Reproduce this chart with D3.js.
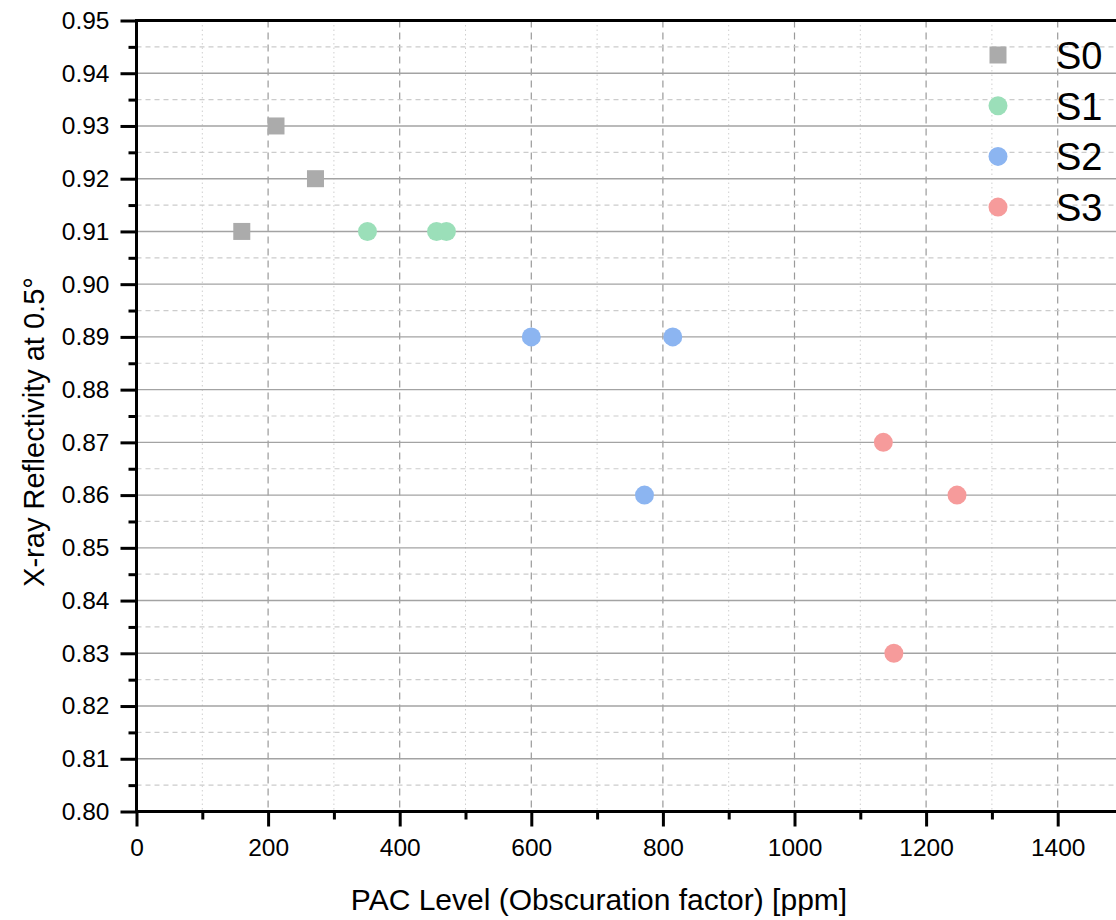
<!DOCTYPE html>
<html>
<head>
<meta charset="utf-8">
<script src="https://cdn.jsdelivr.net/npm/d3@7"></script>
<style>
  body { margin: 0; background: #fff; }
  svg { font-family: Arial, "Liberation Sans", sans-serif; }
</style>
</head>
<body>
<svg width="1116" height="920"></svg>
<script>
var svg, x, y, plot;

// data
var seriesNames = ['S0', 'S1', 'S2', 'S3'];
var s0x = [160, 212, 272];
var s0y = [0.91, 0.93, 0.92];
var s1x = [351, 456, 471];
var s1y = [0.91, 0.91, 0.91];
var s2x = [600, 815, 772];
var s2y = [0.89, 0.89, 0.86];
var s3x = [1135, 1247, 1151];
var s3y = [0.87, 0.86, 0.83];
var xTicks = [0, 200, 400, 600, 800, 1000, 1200, 1400];
var yTicks = [0.80, 0.81, 0.82, 0.83, 0.84, 0.85, 0.86, 0.87, 0.88, 0.89, 0.90, 0.91, 0.92, 0.93, 0.94, 0.95];

var colors = ['#ababab', '#9bdfb9', '#8cb5f1', '#f69b9b'];
var shapes = ['square', 'circle', 'circle', 'circle'];

var series = [
	{ name: seriesNames[0], xs: s0x, ys: s0y },
	{ name: seriesNames[1], xs: s1x, ys: s1y },
	{ name: seriesNames[2], xs: s2x, ys: s2y },
	{ name: seriesNames[3], xs: s3x, ys: s3y }
];

svg = d3.select('svg');

x = d3.scaleLinear().domain([0, 1500]).range([136.5, 1123.5]);
y = d3.scaleLinear().domain([0.80, 0.95]).range([811.5, 20.5]);

var pLeft = x(0), pRight = 1116, pTop = y(0.95), pBottom = y(0.80);

/*
	grid
*/
var grid = svg.append('g');

// minor x (dotted)
grid.selectAll('.gxm').data(d3.range(100, 1500, 200)).enter().append('line')
	.attr('x1', d => x(d)).attr('x2', d => x(d))
	.attr('y1', pTop).attr('y2', pBottom)
	.style('stroke', '#cfcfcf').style('stroke-width', 1).style('stroke-dasharray', '1.5,3');

// major x (dashed)
grid.selectAll('.gxM').data(xTicks.slice(1)).enter().append('line')
	.attr('x1', d => x(d)).attr('x2', d => x(d))
	.attr('y1', pTop).attr('y2', pBottom)
	.style('stroke', '#9a9a9a').style('stroke-width', 1.2).style('stroke-dasharray', '7,5');

// minor y (dashed light)
grid.selectAll('.gym').data(d3.range(0.805, 0.95, 0.01)).enter().append('line')
	.attr('x1', pLeft).attr('x2', pRight)
	.attr('y1', d => y(d)).attr('y2', d => y(d))
	.style('stroke', '#cccccc').style('stroke-width', 1.2).style('stroke-dasharray', '5,4');

// major y (solid)
grid.selectAll('.gyM').data(yTicks.slice(1, -1)).enter().append('line')
	.attr('x1', pLeft).attr('x2', pRight)
	.attr('y1', d => y(d)).attr('y2', d => y(d))
	.style('stroke', '#a3a3a3').style('stroke-width', 1.4);

/*
	points
*/
plot = svg.append('g');
series.forEach(function (s, i) {
	var pts = s.xs.map((v, j) => [v, s.ys[j]]);
	if (shapes[i] === 'square') {
		plot.selectAll(null).data(pts).enter().append('rect')
			.attr('x', d => x(d[0]) - 8.5).attr('y', d => y(d[1]) - 8.5)
			.attr('width', 17).attr('height', 17)
			.style('fill', colors[i]);
	} else {
		plot.selectAll(null).data(pts).enter().append('circle')
			.attr('cx', d => x(d[0])).attr('cy', d => y(d[1])).attr('r', 9.5)
			.style('fill', colors[i]);
	}
});

/*
	axes
*/
svg.append('g').attr('transform', 'translate(0,' + pBottom + ')')
	.call(d3.axisBottom(x).tickValues(xTicks).tickSize(15).tickPadding(12).tickFormat(d3.format('d')));
svg.append('g').attr('transform', 'translate(0,' + pBottom + ')')
	.call(d3.axisBottom(x).tickValues(d3.range(100, 1500, 200)).tickSize(8).tickFormat(''));

svg.append('g').attr('transform', 'translate(' + pLeft + ',0)')
	.call(d3.axisLeft(y).tickValues(yTicks).tickSize(16).tickPadding(11).tickFormat(d3.format('.2f')));
svg.append('g').attr('transform', 'translate(' + pLeft + ',0)')
	.call(d3.axisLeft(y).tickValues(d3.range(0.805, 0.95, 0.01)).tickSize(8).tickFormat(''));

svg.selectAll('.domain').remove();
svg.selectAll('.tick line').style('stroke', '#000').style('stroke-width', 3);
svg.selectAll('.tick text').style('font-size', '24.5px').style('fill', '#000')
	.style('font-family', 'Arial, "Liberation Sans", sans-serif');

// axis lines
svg.append('line').attr('x1', pLeft).attr('x2', pLeft).attr('y1', pTop - 1.5).attr('y2', pBottom + 1.5)
	.style('stroke', '#000').style('stroke-width', 3);
svg.append('line').attr('x1', pLeft).attr('x2', pRight).attr('y1', pBottom).attr('y2', pBottom)
	.style('stroke', '#000').style('stroke-width', 3);
svg.append('line').attr('x1', pLeft).attr('x2', pRight).attr('y1', pTop).attr('y2', pTop)
	.style('stroke', '#000').style('stroke-width', 3);

/*
	titles
*/
svg.append('text').attr('x', 599).attr('y', 910).attr('text-anchor', 'middle')
	.style('font-size', '30px').text('PAC Level (Obscuration factor) [ppm]');

svg.append('text').attr('transform', 'translate(44,' + 432 + ') rotate(-90)').attr('text-anchor', 'middle')
	.style('font-size', '29px').text('X-ray Reflectivity at 0.5°');

/*
	legend
*/
var legend = svg.append('g');
series.forEach(function (s, i) {
	var ly = 55 + i * 50.7;
	if (shapes[i] === 'square') {
		legend.append('rect').attr('x', 998 - 8.5).attr('y', ly - 8.5).attr('width', 17).attr('height', 17).style('fill', colors[i]);
	} else {
		legend.append('circle').attr('cx', 998).attr('cy', ly).attr('r', 9.5).style('fill', colors[i]);
	}
	legend.append('text').attr('x', 1056).attr('y', ly + 14).style('font-size', '38px').text(s.name);
});
</script>
</body>
</html>
